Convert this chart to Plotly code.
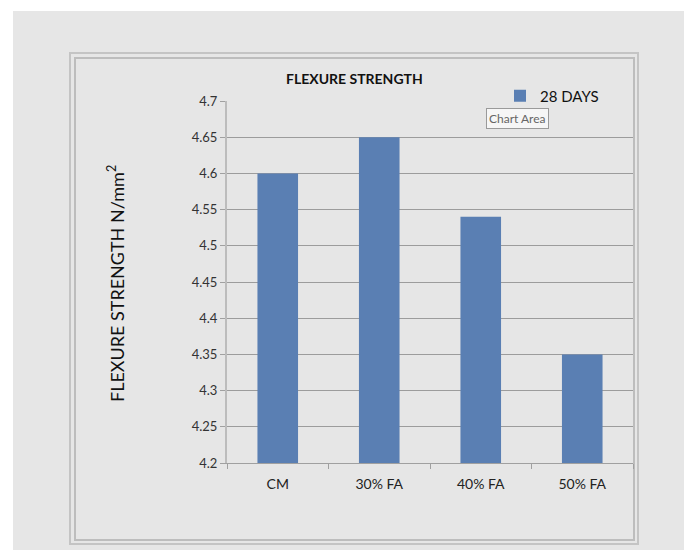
import plotly.graph_objects as go

# Flexural strength at 28 days for each mix
categories = ["CM", "30% FA", "40% FA", "50% FA"]
strength_28d = [4.60, 4.65, 4.54, 4.35]
y_ticks = [4.2, 4.25, 4.3, 4.35, 4.4, 4.45, 4.5, 4.55, 4.6, 4.65, 4.7]
series_name = "28 DAYS"

W, H = 684, 550
PL, PR, PT, PB = 227, 633, 101, 463  # plot area in pixels


def px(x):
    return (x - PL) / (PR - PL)


def py(y):
    return (PB - y) / (PB - PT)


FONT = "Lato, 'Open Sans', sans-serif"
BG = "#e6e6e6"

fig = go.Figure()
fig.add_trace(go.Bar(
    x=categories, y=strength_28d, name=series_name,
    marker=dict(color="#5a7fb3", line=dict(width=0)),
))

shapes = [
    # white margins at the top and left edges
    dict(type="rect", xref="paper", yref="paper", x0=px(0), x1=px(W), y0=py(0), y1=py(11),
         fillcolor="white", line=dict(width=0), layer="below"),
    dict(type="rect", xref="paper", yref="paper", x0=px(0), x1=px(13), y0=py(0), y1=py(H),
         fillcolor="white", line=dict(width=0), layer="below"),
    # chart frame: outer and inner borders
    dict(type="rect", xref="paper", yref="paper", x0=px(70), x1=px(638), y0=py(53), y1=py(544),
         line=dict(color="#c4c4c4", width=2), layer="below"),
    dict(type="rect", xref="paper", yref="paper", x0=px(75), x1=px(634), y0=py(58), y1=py(540),
         line=dict(color="#bdbdbd", width=2), layer="below"),
]

annotations = [
    dict(text="<b>FLEXURE STRENGTH</b>", xref="paper", yref="paper",
         x=px(354), y=py(78), xanchor="center", yanchor="middle", showarrow=False,
         font=dict(family=FONT, size=14, color="#111")),
    dict(text="FLEXURE STRENGTH N/mm<sup>2</sup>", xref="paper", yref="paper",
         x=px(116), y=py(284), xanchor="center", yanchor="middle", textangle=-90,
         showarrow=False, font=dict(family=FONT, size=18, color="#111")),
    dict(text="Chart Area", xref="paper", yref="paper", x=px(517), y=py(118),
         xanchor="center", yanchor="middle", showarrow=False,
         font=dict(family=FONT, size=12, color="#666"),
         bgcolor="#f6f6f6", bordercolor="#9a9a9a", borderwidth=1, borderpad=2),
]

fig.update_layout(
    width=W, height=H,
    margin=dict(l=PL, r=W - PR, t=PT, b=H - PB),
    paper_bgcolor=BG, plot_bgcolor=BG,
    bargap=0.6,
    showlegend=True,
    legend=dict(x=px(500), y=py(96), xanchor="left", yanchor="middle",
                bgcolor="rgba(0,0,0,0)", font=dict(family=FONT, size=15, color="#111"),
                itemwidth=30, tracegroupgap=0),
    shapes=shapes, annotations=annotations,
    xaxis=dict(
        showline=True, linecolor="#a0a0a0", linewidth=1,
        ticks="outside", tickson="boundaries", ticklen=5, tickcolor="#a0a0a0",
        tickfont=dict(family=FONT, size=14, color="#222"), ticklabelstandoff=8,
        showgrid=False,
    ),
    yaxis=dict(
        range=[4.2, 4.7], tickvals=y_ticks, ticktext=[f"{v:g}" for v in y_ticks],
        showline=True, linecolor="#bcbcbc", linewidth=2,
        ticks="outside", ticklen=5, tickcolor="#a0a0a0",
        tickfont=dict(family=FONT, size=13, color="#333"),
        showgrid=True, gridcolor="#9c9c9c", gridwidth=1, zeroline=False,
    ),
)

fig.write_html("out.html")
